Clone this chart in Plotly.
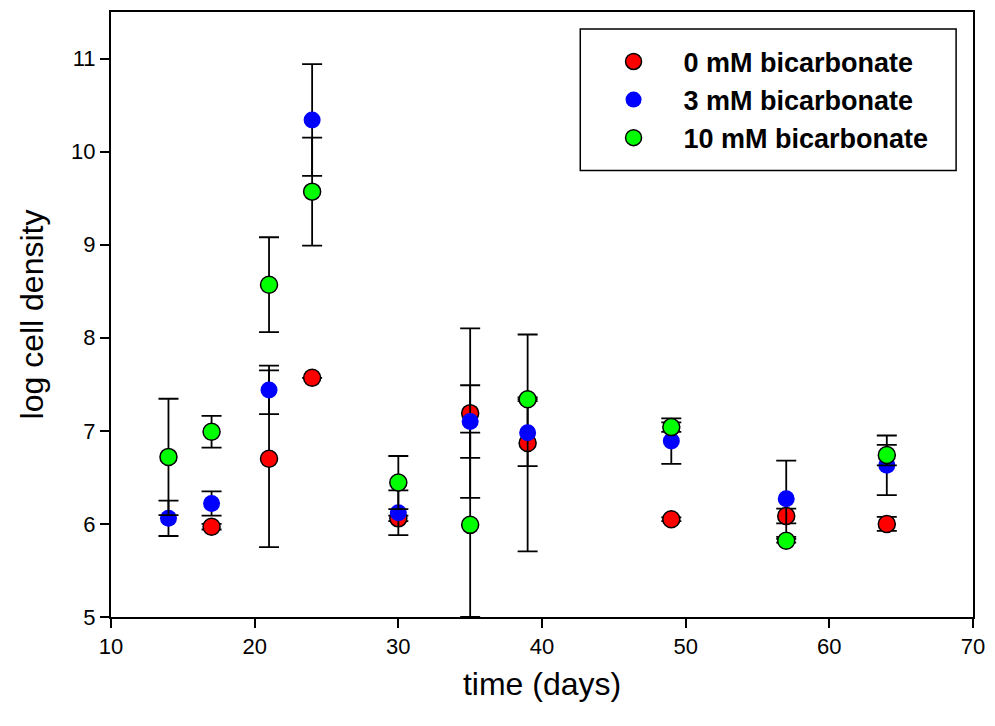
import plotly.graph_objects as go

# ---- data ----
red_days = [17, 21, 24, 30, 35, 39, 49, 57, 64]
red_vals = [5.97, 6.70, 7.57, 6.06, 7.19, 6.87, 6.05, 6.085, 6.00]
red_err = [0.03, 0.95, 0.0, 0.03, 0.91, 1.165, 0.02, 0.08, 0.075]

blue_days = [14, 17, 21, 24, 30, 35, 39, 49, 57, 64]
blue_vals = [6.06, 6.22, 7.44, 10.34, 6.12, 7.10, 6.98, 6.89, 6.27, 6.63]
blue_err = [0.19, 0.13, 0.26, 0.60, 0.24, 0.39, 0.36, 0.245, 0.41, 0.32]

green_days = [14, 17, 21, 24, 30, 35, 39, 49, 57, 64]
green_vals = [6.72, 6.99, 8.57, 9.57, 6.445, 5.99, 7.34, 7.04, 5.82, 6.74]
green_err = [0.625, 0.17, 0.51, 0.58, 0.285, 0.99, 0.02, 0.05, 0.02, 0.11]

names = ["0 mM bicarbonate", "3 mM bicarbonate", "10 mM bicarbonate"]
x_ticks = [10, 20, 30, 40, 50, 60, 70]
y_ticks = [5, 6, 7, 8, 9, 10, 11]

FONT = "Liberation Sans, Arial, Helvetica, sans-serif"
PAD = "\u00a0" * 4

fig = go.Figure()

def add(days, vals, err, name, color, outline):
    fig.add_trace(go.Scatter(
        x=days, y=vals, mode="markers", name=PAD + name,
        marker=dict(size=17, color=color,
                    line=dict(color="black", width=1.5 if outline else 0)),
        error_y=dict(type="data", array=err, visible=True,
                     color="black", thickness=1.8, width=10),
        cliponaxis=True,
    ))

add(red_days, red_vals, red_err, names[0], "#ff0000", True)
add(blue_days, blue_vals, blue_err, names[1], "#0000ff", False)
add(green_days, green_vals, green_err, names[2], "#00ff00", True)

# legend frame
fig.add_shape(type="rect", xref="paper", yref="paper",
              x0=0.5444, x1=0.9804, y0=0.738, y1=0.972,
              line=dict(color="black", width=1.5), fillcolor="rgba(0,0,0,0)")

fig.update_layout(
    width=995, height=726,
    margin=dict(l=111, r=17, t=10, b=109),
    paper_bgcolor="white", plot_bgcolor="white",
    font=dict(family=FONT, color="black"),
    showlegend=True,
    legend=dict(x=0.5830, y=0.958, xanchor="left", yanchor="top",
                bgcolor="rgba(0,0,0,0)", borderwidth=0,
                font=dict(family=FONT, size=27, color="black", weight="bold"),
                itemsizing="trace"),
    xaxis=dict(range=[10, 70], tickvals=x_ticks, ticks="outside", ticklen=9,
               tickwidth=1.5, tickcolor="black", showline=True, linecolor="black",
               linewidth=2, mirror=True, showgrid=False, zeroline=False,
               tickfont=dict(size=22, family=FONT),
               title=dict(text="time (days)", font=dict(size=32, family=FONT), standoff=14)),
    yaxis=dict(range=[5, 11.5], tickvals=y_ticks, ticks="outside", ticklen=9,
               tickwidth=1.5, tickcolor="black", showline=True, linecolor="black",
               linewidth=2, mirror=True, showgrid=False, zeroline=False,
               tickfont=dict(size=22, family=FONT),
               title=dict(text="log cell density", font=dict(size=32, family=FONT), standoff=18)),
)

fig.write_html("out.html")
